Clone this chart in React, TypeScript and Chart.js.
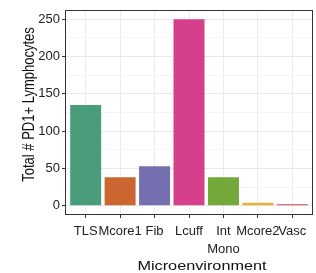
import React, { useEffect, useRef } from "react";
import { Chart, registerables } from "chart.js";

Chart.register(...registerables);

const categories = ["TLS", "Mcore1", "Fib", "Lcuff", "Int\nMono", "Mcore2", "Vasc"];
const counts = [135, 38, 53, 250, 38, 4, 2];
const barColors = ["#4a9d7a", "#cc6630", "#7470b0", "#d6408a", "#73a83b", "#e3b23c", "#d1444e"];
const yTickValues = [0, 25, 50, 75, 100, 125, 150, 175, 200, 225, 250];
const xTitle = "Microenvironment";
const yTitle = "Total # PD1+ Lymphocytes";

const FONT = "'Liberation Sans', Arial, sans-serif";

const titlesPlugin = {
  id: "titlesAndBorder",
  afterDraw(chart: any) {
    const { ctx, chartArea } = chart;
    ctx.save();
    ctx.strokeStyle = "#333333";
    ctx.lineWidth = 1;
    ctx.strokeRect(
      Math.round(chartArea.left) + 0.5,
      Math.round(chartArea.top) + 0.5,
      Math.round(chartArea.right - chartArea.left) - 1,
      Math.round(chartArea.bottom - chartArea.top) - 1
    );
    ctx.fillStyle = "#111111";
    ctx.font = `13px ${FONT}`;
    ctx.textAlign = "center";
    ctx.textBaseline = "middle";
    ctx.save();
    ctx.translate(202, 266);
    ctx.scale(1.25, 1);
    ctx.fillText(xTitle, 0, 0);
    ctx.restore();
    ctx.save();
    ctx.translate(30, 104.5);
    ctx.scale(1.2, 1);
    ctx.rotate(-Math.PI / 2);
    ctx.fillText(yTitle, 0, 0);
    ctx.restore();
    ctx.restore();
  },
};

export default function App() {
  const ref = useRef<HTMLCanvasElement | null>(null);
  useEffect(() => {
    if (!ref.current) return;
    const chart = new Chart(ref.current, {
      type: "bar",
      data: {
        datasets: [
          {
            data: counts.map((v, i) => ({ x: i + 1, y: v })),
            backgroundColor: barColors,
            borderWidth: 0,
            categoryPercentage: 1,
            barPercentage: 0.9,
          },
        ],
      },
      options: {
        animation: false,
        responsive: false,
        layout: { padding: { left: 0, right: 3, top: 8, bottom: 0 } },
        plugins: { legend: { display: false }, tooltip: { enabled: false } },
        scales: {
          x: {
            type: "linear",
            offset: false,
            min: 0.4,
            max: 7.6,
            afterBuildTicks: (scale: any) => {
              scale.ticks = categories.map((_, i) => ({ value: i + 1 }));
            },
            afterFit: (scale: any) => {
              scale.height = 58;
              scale.paddingLeft = 0;
              scale.paddingRight = 0;
            },
            ticks: {
              autoSkip: false,
              maxRotation: 0,
              padding: 4,
              color: "#222222",
              font: { family: FONT, size: 13, lineHeight: 1.4 },
              callback: (v: any) => {
                const lab = categories[Math.round(Number(v)) - 1];
                return lab ? lab.split("\n") : "";
              },
            },
            grid: {
              offset: false,
              color: "#ebebeb",
              lineWidth: 1,
              tickLength: 3,
              tickColor: "#333333",
            },
            border: { display: false },
          },
          y: {
            min: -12.5,
            max: 262.5,
            afterBuildTicks: (scale: any) => {
              scale.ticks = yTickValues.map((v) => ({ value: v }));
            },
            afterFit: (scale: any) => {
              scale.width = 65;
            },
            ticks: {
              autoSkip: false,
              padding: 2,
              color: "#222222",
              font: { family: FONT, size: 13 },
              callback: (v: any) => (Number(v) % 50 === 0 ? String(v) : ""),
            },
            grid: {
              color: (c: any) => (c.tick && c.tick.value % 50 === 0 ? "#e8e8e8" : "#f4f4f4"),
              lineWidth: 1,
              tickLength: 3,
              tickColor: (c: any) => (c.tick && c.tick.value % 50 === 0 ? "#333333" : "rgba(0,0,0,0)"),
            },
            border: { display: false },
          },
        },
      },
      plugins: [titlesPlugin],
    } as any);
    return () => chart.destroy();
  }, []);
  return (
    <div style={{ position: "fixed", left: 0, top: 0, width: 316, height: 273, background: "#fff" }}>
      <canvas ref={ref} width={316} height={273} style={{ width: 316, height: 273, display: "block" }} />
    </div>
  );
}
